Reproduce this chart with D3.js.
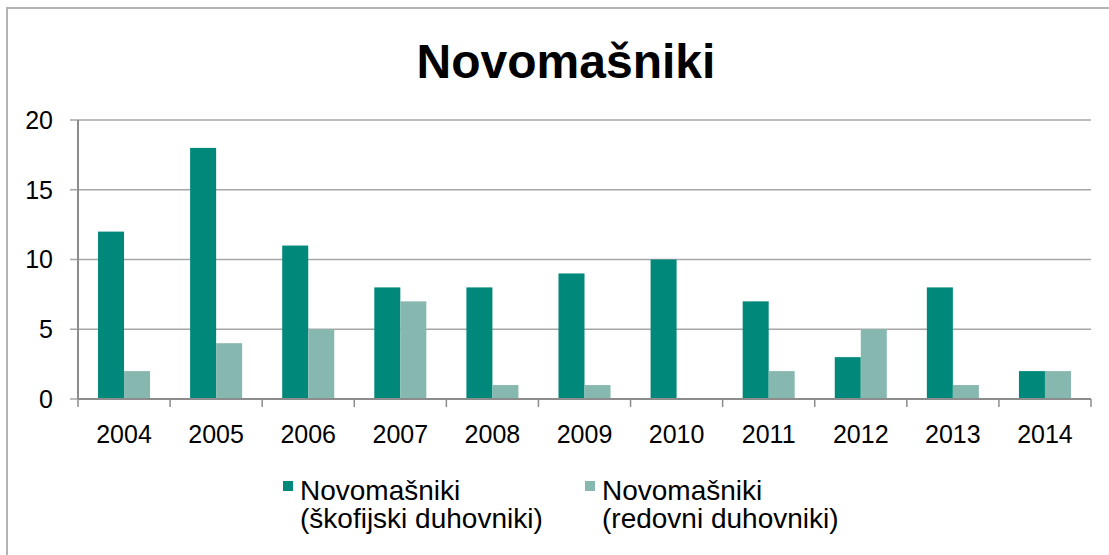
<!DOCTYPE html>
<html>
<head>
<meta charset="utf-8">
<script src="https://d3js.org/d3.v7.min.js"></script>
<style>
  body { margin: 0; background: #fff; }
  text { font-family: "Liberation Sans", Arial, sans-serif; fill: #000; }
</style>
</head>
<body>
<div id="chart"></div>
<script>
// data
var years = ["2004","2005","2006","2007","2008","2009","2010","2011","2012","2013","2014"];
var skofijski = [12, 18, 11, 8, 8, 9, 10, 7, 3, 8, 2];
var redovni = [2, 4, 5, 7, 1, 1, 0, 2, 5, 1, 2];
var seriesNames = ["Novomašniki (škofijski duhovniki)", "Novomašniki (redovni duhovniki)"];
var yTicks = [0, 5, 10, 15, 20];

var colors = ["#00887a", "#86b8b0"];

var W = 1109, H = 555;
var margin = {top: 120, right: 18, bottom: 156, left: 78},
    width = W - margin.left - margin.right,
    height = H - margin.top - margin.bottom;

var svg = d3.select("#chart").append("svg")
    .attr("width", W)
    .attr("height", H);

// outer chart border (right and bottom fall outside the picture)
svg.append("rect")
    .attr("x", 7).attr("y", 8)
    .attr("width", W + 20).attr("height", H + 20)
    .attr("fill", "none")
    .attr("stroke", "#b3b3b3")
    .attr("stroke-width", 2);

svg.append("text")
    .attr("x", 566).attr("y", 78)
    .attr("text-anchor", "middle")
    .style("font-size", "48px")
    .style("font-weight", "bold")
    .text("Novomašniki");

var g = svg.append("g")
    .attr("transform", "translate(" + margin.left + "," + margin.top + ")");

var x = d3.scaleBand().domain(years).range([0, width]).padding(0);
var x1 = d3.scaleBand().domain([0, 1]).range([0, x.bandwidth()]).paddingInner(0).paddingOuter(0.77);
var y = d3.scaleLinear().domain([0, 20]).range([height, 0]);

// gridlines
g.append("g")
    .selectAll("line")
    .data(yTicks)
    .join("line")
    .attr("x1", -8).attr("x2", width)
    .attr("y1", d => y(d)).attr("y2", d => y(d))
    .attr("stroke", "#a6a6a6")
    .attr("stroke-width", 1.5);

// y labels
g.append("g")
    .selectAll("text")
    .data(yTicks)
    .join("text")
    .attr("x", -25)
    .attr("y", d => y(d))
    .attr("dy", "0.35em")
    .attr("text-anchor", "end")
    .style("font-size", "25px")
    .text(d => d);

// bars
var data = years.map(function(yr, i) { return {year: yr, vals: [skofijski[i], redovni[i]]}; });
var groups = g.selectAll(".grp")
    .data(data)
    .join("g")
    .attr("class", "grp")
    .attr("transform", d => "translate(" + x(d.year) + ",0)");
groups.selectAll("rect")
    .data(d => d.vals.map((v, k) => ({k: k, v: v})))
    .join("rect")
    .attr("x", d => x1(d.k))
    .attr("width", x1.bandwidth())
    .attr("y", d => y(d.v))
    .attr("height", d => height - y(d.v))
    .attr("fill", d => colors[d.k]);

// y axis line
g.append("line")
    .attr("x1", 0).attr("x2", 0)
    .attr("y1", 0).attr("y2", height)
    .attr("stroke", "#8c8c8c")
    .attr("stroke-width", 2);

// x axis
var xAxis = g.append("g")
    .attr("transform", "translate(0," + height + ")");
xAxis.append("line")
    .attr("x1", 0).attr("x2", width)
    .attr("stroke", "#8c8c8c")
    .attr("stroke-width", 2);
xAxis.selectAll(".tk")
    .data(years.concat(["end"]))
    .join("line")
    .attr("class", "tk")
    .attr("x1", (d, i) => i < years.length ? x(d) : width)
    .attr("x2", (d, i) => i < years.length ? x(d) : width)
    .attr("y1", 0).attr("y2", 8)
    .attr("stroke", "#8c8c8c")
    .attr("stroke-width", 1.5);
xAxis.selectAll("text")
    .data(years)
    .join("text")
    .attr("x", d => x(d) + x.bandwidth() / 2)
    .attr("y", 44)
    .attr("text-anchor", "middle")
    .style("font-size", "25px")
    .text(d => d);

// legend
var legendX = [283, 585];
var legend = svg.selectAll(".leg")
    .data(seriesNames)
    .join("g")
    .attr("class", "leg")
    .attr("transform", (d, i) => "translate(" + legendX[i] + ",0)");
legend.append("rect")
    .attr("x", 0).attr("y", 481)
    .attr("width", 10).attr("height", 10)
    .attr("fill", (d, i) => colors[i]);
legend.append("text")
    .attr("x", 17).attr("y", 500)
    .style("font-size", "28px")
    .text(d => d.split(" (")[0]);
legend.append("text")
    .attr("x", 17).attr("y", 528)
    .style("font-size", "28px")
    .text(d => "(" + d.split(" (")[1]);
</script>
</body>
</html>
